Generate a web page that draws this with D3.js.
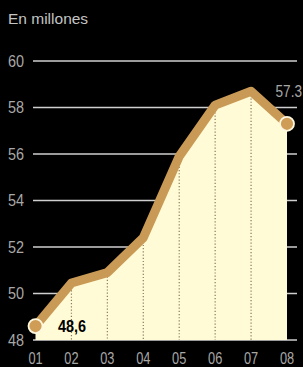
<!DOCTYPE html>
<html><head><meta charset="utf-8">
<script src="https://cdn.jsdelivr.net/npm/d3@7"></script>
<style>html,body{margin:0;padding:0;background:#000;}svg{display:block;}</style>
</head><body>
<script>
const years = ["01","02","03","04","05","06","07","08"];
const values = [48.6, 50.45, 50.9, 52.4, 55.9, 58.1, 58.7, 57.3];
const yTicks = [48, 50, 52, 54, 56, 58, 60];
const title = "En millones";
const firstLabel = "48,6";
const lastLabel = "57.3";

const W = 303, H = 367;
const svg = d3.select("body").append("svg").attr("width", W).attr("height", H);
svg.append("rect").attr("width", W).attr("height", H).attr("fill", "#000");

const x = d3.scalePoint().domain(years).range([35.5, 287]);
const y = d3.scaleLinear().domain([48, 60]).range([340, 61]);
const font = "'Liberation Sans',Arial,sans-serif";

svg.append("text").attr("x", 8).attr("y", 24).text(title)
  .attr("fill", "#c4c4c4").attr("font-family", font).attr("font-size", 15.5);

// gridlines
svg.append("g").selectAll("line").data(yTicks).join("line")
  .attr("x1", 33).attr("x2", 297)
  .attr("y1", d => y(d)).attr("y2", d => y(d))
  .attr("stroke", "#cfcfcf").attr("stroke-width", 1.5);

// y labels
svg.append("g").selectAll("text").data(yTicks).join("text")
  .attr("transform", d => `translate(8,${y(d)}) scale(0.9,1)`).attr("dy", "0.36em")
  .text(d => d).attr("fill", "#a8a8a8").attr("font-family", font).attr("font-size", 16);

// area fill
const area = d3.area().x((d, i) => x(years[i])).y0(y(48)).y1(d => y(d));
svg.append("path").datum(values).attr("d", area).attr("fill", "#fffbd6");

// dotted verticals
svg.append("g").selectAll("line").data(values.slice(1, -1)).join("line")
  .attr("x1", (d, i) => x(years[i + 1])).attr("x2", (d, i) => x(years[i + 1]))
  .attr("y1", d => y(d) + 4).attr("y2", y(48))
  .attr("stroke", "#8a7a60").attr("stroke-width", 1.2).attr("stroke-dasharray", "1.2,2");

// line
const line = d3.line().x((d, i) => x(years[i])).y(d => y(d));
svg.append("path").datum(values).attr("d", line)
  .attr("fill", "none").attr("stroke", "#c99a55").attr("stroke-width", 9)
  .attr("stroke-linejoin", "round").attr("stroke-linecap", "round");

// end circles
const ends = [0, values.length - 1];
svg.append("g").selectAll("circle").data(ends).join("circle")
  .attr("cx", i => x(years[i])).attr("cy", i => y(values[i]))
  .attr("r", 7).attr("fill", "#cf9d55").attr("stroke", "#fff8e0").attr("stroke-width", 1.8);

// value labels
svg.append("text").attr("transform", `translate(58,${y(values[0]) + 6}) scale(0.85,1)`).text(firstLabel)
  .attr("fill", "#000").attr("font-weight", "bold").attr("font-family", font).attr("font-size", 17);
svg.append("text").attr("transform", "translate(302,97) scale(0.85,1)").attr("text-anchor", "end").text(lastLabel)
  .attr("fill", "#a8a8a8").attr("font-family", font).attr("font-size", 16);

// x labels
svg.append("g").selectAll("text").data(years).join("text")
  .attr("transform", d => `translate(${x(d)},364) scale(0.8,1)`).attr("text-anchor", "middle")
  .text(d => d).attr("fill", "#a8a8a8").attr("font-family", font).attr("font-size", 16);
</script>
</body></html>
